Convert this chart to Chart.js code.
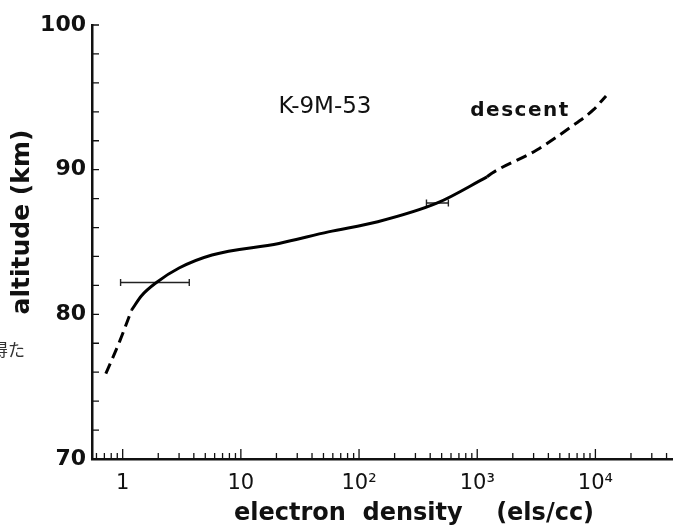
<!DOCTYPE html>
<html>
<head>
<meta charset="utf-8">
<title>K-9M-53 descent</title>
<script src="https://cdn.jsdelivr.net/npm/chart.js@4"></script>
<style>
  body { margin: 0; background: #fff; }
  #wrap { width: 678px; height: 529px; }
</style>
</head>
<body>
<div id="wrap"><canvas id="profile" width="678" height="529"></canvas></div>
<script>
// electron density (els/cc) vs altitude (km)
const lowerDensity = [0.72, 0.95, 1.19];
const lowerAltitude = [75.9, 78.2, 80.3];
const midDensity = [1.19, 1.45, 1.93, 3.0, 5.7, 21, 55, 144, 460, 1210];
const midAltitude = [80.3, 81.3, 82.2, 83.2, 84.1, 84.9, 85.7, 86.4, 87.7, 89.5];
const upperDensity = [1210, 1340, 3190, 6030, 9590, 12300];
const upperAltitude = [89.5, 89.77, 91.36, 92.88, 94.13, 95.1];

// horizontal error bars
const errAltitude = [82.2, 87.7];
const errMin = [0.96, 372];
const errMax = [3.66, 570];

// axes
const xDecades = [1, 10, 100, 1000, 10000];
const xDecadeLabels = ['1', '10', '10²', '10³', '10⁴'];
const yLabelled = [70, 80, 90, 100];

const X_MIN = 0.55, X_MAX = 45000;
const INK = '#111';
const FONT = 'DejaVu Sans';

const pts = (xs, ys) => xs.map((x, i) => ({ x, y: ys[i] }));

function curve(data, dash) {
    return {
        data,
        showLine: true,
        borderColor: '#000',
        borderWidth: 3,
        borderDash: dash,
        pointRadius: 0,
        cubicInterpolationMode: 'monotone'
    };
}

function errorBar(i) {
    return {
        data: [{ x: errMin[i], y: errAltitude[i] }, { x: errMax[i], y: errAltitude[i] }],
        showLine: true,
        borderColor: '#222',
        borderWidth: 1.4,
        pointStyle: 'line',
        rotation: 90,
        pointRadius: 3.5,
        pointBorderWidth: 1.4,
        pointBorderColor: '#222'
    };
}

function isDecade(v) {
    return xDecades.some(d => Math.abs(d - v) < d * 1e-9);
}

// short tick marks pointing into the plot, like the original figure
const inwardTicks = {
    id: 'inwardTicks',
    afterDraw(chart) {
        const { ctx, chartArea: a, scales: { x, y } } = chart;
        ctx.save();
        ctx.strokeStyle = INK;
        ctx.lineWidth = 1.3;
        ctx.beginPath();
        x.ticks.forEach(t => {
            const px = x.getPixelForValue(t.value);
            const len = isDecade(t.value) ? 10 : 6;
            ctx.moveTo(px, a.bottom);
            ctx.lineTo(px, a.bottom - len);
        });
        y.ticks.forEach(t => {
            const py = y.getPixelForValue(t.value);
            ctx.moveTo(a.left, py);
            ctx.lineTo(a.left + 7, py);
        });
        ctx.stroke();
        ctx.restore();
    }
};

// axis titles and labels
const texts = {
    id: 'texts',
    afterDraw(chart) {
        const { ctx } = chart;
        ctx.save();
        ctx.fillStyle = INK;
        ctx.textBaseline = 'middle';
        ctx.textAlign = 'center';

        ctx.font = `bold 24px "${FONT}"`;
        ctx.fillText('electron  density    (els/cc)', 414, 514);

        ctx.save();
        ctx.translate(22, 222);
        ctx.rotate(-Math.PI / 2);
        ctx.font = `bold 25px "${FONT}"`;
        ctx.fillText('altitude (km)', 0, 0);
        ctx.restore();

        ctx.font = `23px "${FONT}"`;
        ctx.fillText('K-9M-53', 325, 107);

        ctx.font = `bold 20px "${FONT}"`;
        ctx.letterSpacing = '1.5px';
        ctx.fillText('descent', 520, 111);
        ctx.letterSpacing = '0px';

        ctx.textAlign = 'left';
        ctx.fillStyle = '#333';
        ctx.font = `17px "Noto Sans CJK JP"`;
        ctx.fillText('得た', -9, 350);
        ctx.restore();
    }
};

new Chart(document.getElementById('profile'), {
    type: 'scatter',
    data: {
        datasets: [
            curve(pts(lowerDensity, lowerAltitude), [11, 6]),
            curve(pts(midDensity, midAltitude), []),
            curve(pts(upperDensity, upperAltitude), [11, 6]),
            errorBar(0),
            errorBar(1)
        ]
    },
    options: {
        responsive: false,
        devicePixelRatio: 1,
        animation: false,
        layout: { padding: { top: 25, right: -6, left: 0, bottom: 0 } },
        plugins: {
            legend: { display: false },
            tooltip: { enabled: false }
        },
        scales: {
            x: {
                type: 'logarithmic',
                min: X_MIN,
                max: X_MAX,
                afterBuildTicks(scale) {
                    const ticks = [];
                    for (let e = -1; e <= 4; e++) {
                        for (let k = 1; k <= 9; k++) {
                            const v = k * Math.pow(10, e);
                            if (v >= X_MIN && v <= X_MAX) ticks.push({ value: v });
                        }
                    }
                    scale.ticks = ticks;
                },
                afterFit(scale) {
                    scale.height = 70;
                    scale.paddingRight = 0;
                    scale.paddingLeft = 0;
                },
                grid: { display: false, drawTicks: false },
                border: { display: true, color: INK, width: 2.5 },
                ticks: {
                    autoSkip: false,
                    maxRotation: 0,
                    padding: 12,
                    color: INK,
                    font: { family: FONT, size: 21 },
                    callback(v) {
                        const i = xDecades.findIndex(d => Math.abs(d - v) < d * 1e-9);
                        return i >= 0 ? xDecadeLabels[i] : '';
                    }
                }
            },
            y: {
                type: 'linear',
                min: 70,
                max: 100,
                afterBuildTicks(scale) {
                    const ticks = [];
                    for (let v = 70; v <= 100; v += 2) ticks.push({ value: v });
                    scale.ticks = ticks;
                },
                afterFit(scale) { scale.width = 92; },
                grid: { display: false, drawTicks: false },
                border: { display: true, color: INK, width: 2.5 },
                ticks: {
                    autoSkip: false,
                    padding: 6,
                    color: INK,
                    font: { family: FONT, size: 22, weight: 'bold' },
                    callback: v => yLabelled.includes(v) ? String(v) : ''
                }
            }
        }
    },
    plugins: [inwardTicks, texts]
});
</script>
</body>
</html>
